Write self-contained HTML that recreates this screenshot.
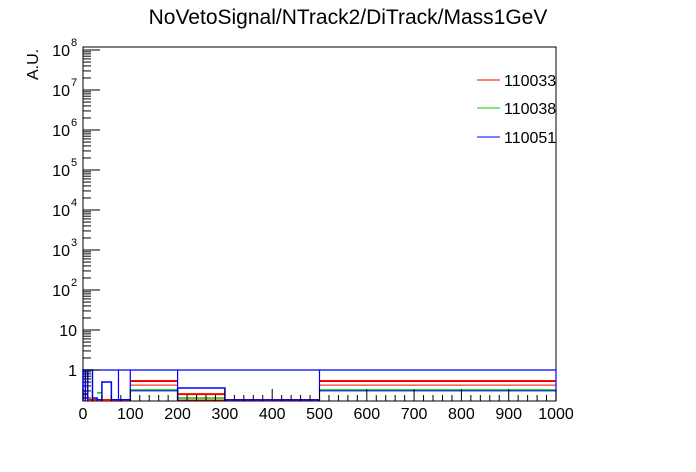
<!DOCTYPE html>
<html><head><meta charset="utf-8"><style>
body{margin:0;background:#fff;}
svg{display:block;font-family:"Liberation Sans",Arial,sans-serif;}
</style></head><body>
<svg id="c" width="696" height="472" viewBox="0 0 696 472">
<text x="348" y="24" text-anchor="middle" font-size="21">NoVetoSignal/NTrack2/DiTrack/Mass1GeV</text>
<text transform="translate(38,80) rotate(-90)" font-size="16" text-anchor="start">A.U.</text>
<rect x="83" y="47" width="473" height="354" fill="none" stroke="#000" stroke-width="1"/>
<g id="marks"></g>
<g id="axes"></g>
<g>
<line x1="477" y1="80" x2="500" y2="80" stroke="#f00"/>
<text x="504" y="86" font-size="16">110033</text>
<line x1="477" y1="108" x2="500" y2="108" stroke="#0c0"/>
<text x="504" y="114" font-size="16">110038</text>
<line x1="477" y1="137" x2="500" y2="137" stroke="#00f"/>
<text x="504" y="143" font-size="16">110051</text>
</g>
</svg>
<script>
const xTicks=[0,100,200,300,400,500,600,700,800,900,1000];
const yTickExps=[0,1,2,3,4,5,6,7,8];
const yTickLabels=["1","10","10","10","10","10","10","10","10"];
// bin edges and values per series
const blueEdges=[0,75,100,200,500,1000];
const blueValues=[1.0,1.0,1.0,1.0,1.0];
const blueFineEdges=[0,5,10,20,30,40,60,75,100,200,300,500,1000];
const blueFineValues=[1.0,0.25,1.0,0.2,0.18,0.5,0.18,0.18,0,0.355,0.178,0];
const blueInner=[0,0,0,0,0,0,0,0,0.30,0,0,0.30];
const redEdges=[0,10,100,200,300,500,1000];
const redValues=[0.25,0.178,0.53,0.25,0.178,0.53];
const redValues2=[0.2,0.178,0.42,0.178,0.178,0.42];
const greenEdges=[0,10,30,40,100,200,300,500,1000];
const greenValues=[0.3,0.18,0.27,0.18,0.316,0.2,0.178,0.316];

const X0=83,X1=556,Y1=370,DEC=40,YB=401;
const sx=v=>X0+(v/1000)*(X1-X0);
const sy=v=>Math.min(YB-1,Y1-DEC*Math.log10(v));
const NS="http://www.w3.org/2000/svg";
const marks=document.getElementById('marks'),axes=document.getElementById('axes');
function mk(tag,at,parent){const e=document.createElementNS(NS,tag);for(const k in at)e.setAttribute(k,at[k]);parent.appendChild(e);return e;}

function hist(edges,vals,color,name,w){
  let d="";
  for(let i=0;i<vals.length;i++){
    if(!vals[i])continue;
    const x0=sx(edges[i]),x1=sx(edges[i+1]),y=sy(vals[i]);
    d+=`M${x0},${YB}L${x0},${y}L${x1},${y}L${x1},${YB}`;
  }
  const p=mk('path',{d:d,fill:'none',stroke:color,'stroke-width':w||1},marks);
  
  
}
function levels(edges,vals,color,name,w){
  for(let i=0;i<vals.length;i++){
    if(!vals[i])continue;
    const l=mk('line',{x1:sx(edges[i]),x2:sx(edges[i+1]),y1:sy(vals[i]),y2:sy(vals[i]),stroke:color,'stroke-width':w||1},marks);
    
    
  }
}
levels(redEdges,redValues2,'#f00','series-110033-band',1);
levels(greenEdges,greenValues,'#0c0','series-110038-bin',1.5);
levels(blueFineEdges,blueInner,'#00f','series-110051-band',1);
levels(redEdges,redValues,'#f00','series-110033-bin',2);
hist(blueFineEdges,blueFineValues,'#00f','series-110051-fine',1.5);
hist(blueEdges,blueValues,'#00f','series-110051',1.2);

// x axis
for(let v=0;v<=1000;v+=20){
  const major=v%100===0;
  mk('line',{x1:sx(v),x2:sx(v),y1:YB,y2:YB-(major?12:6),stroke:'#000'},axes);
}
xTicks.forEach(v=>{
  const t=mk('text',{x:sx(v),y:419,'font-size':16,'text-anchor':'middle'},axes);
  t.textContent=v;
  
  
});
// y axis
for(let e=-1;e<=8;e++){
  for(let m=1;m<10;m++){
    const v=m*Math.pow(10,e);
    const y=Y1-DEC*Math.log10(v);
    if(y>YB||y<47)continue;
    mk('line',{x1:X0,x2:X0+(m===1?17:8),y1:y,y2:y,stroke:'#000'},axes);
  }
}
yTickExps.forEach((e,i)=>{
  const y=Y1-DEC*e;
  const t=mk('text',{x:e<2?77:70,y:y+6,'font-size':16,'text-anchor':'end'},axes);
  t.textContent=yTickLabels[i];
  
  
  if(e>=2){
    const s=mk('text',{x:71,y:y-4,'font-size':11,'text-anchor':'start'},axes);
    s.textContent=e;
    
    
  }
});
</script>
</body></html>
